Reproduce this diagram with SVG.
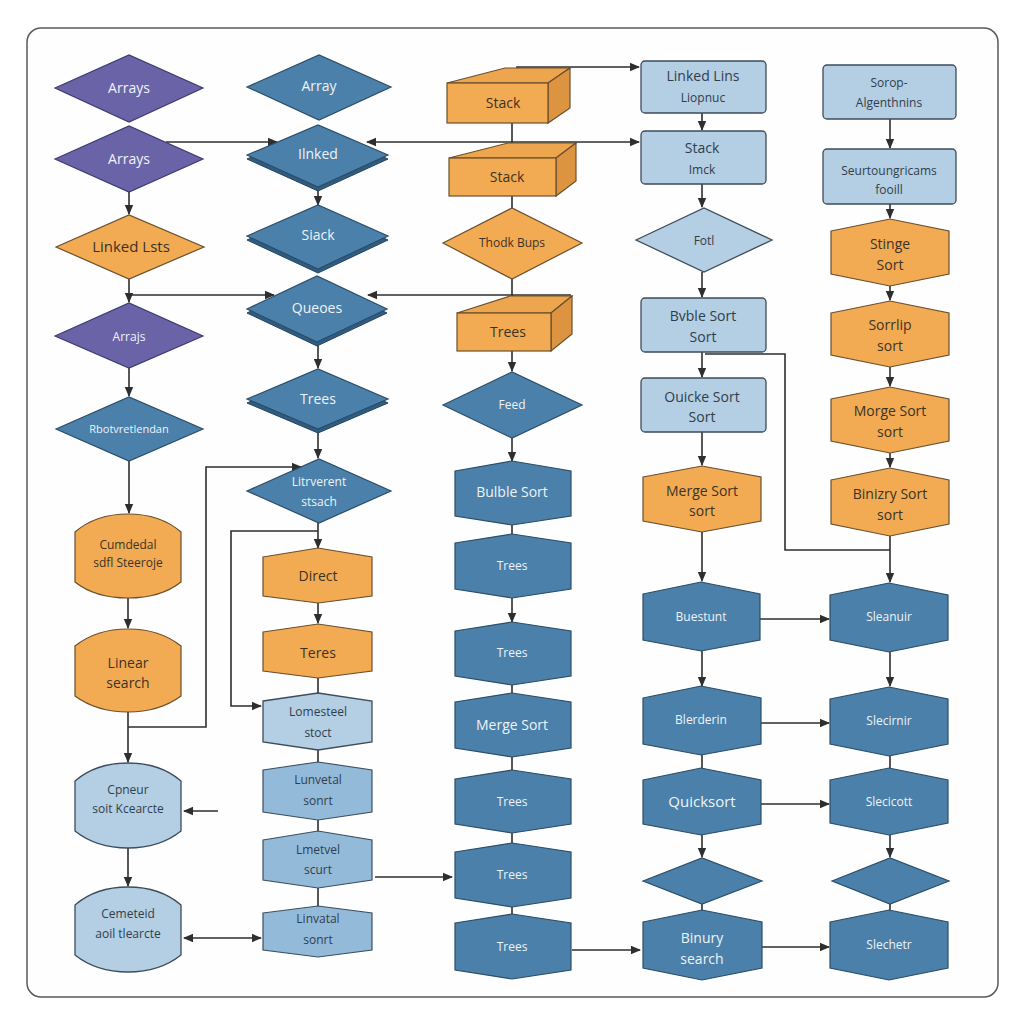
<svg xmlns="http://www.w3.org/2000/svg" width="1024" height="1024" viewBox="0 0 1024 1024">
  <defs>
    <marker id="arr" viewBox="0 0 10 10" refX="9" refY="5" markerWidth="10" markerHeight="10" markerUnits="userSpaceOnUse" orient="auto-start-reverse">
      <path d="M0,0.8 L10,5 L0,9.2 Z" fill="#2e2e2e"/>
    </marker>
    <style>
      .frame { fill: #fefefe; stroke: #5a5a5a; stroke-width: 1.5; }
      .purple { fill: #6b63a8; stroke: #3f3a72; stroke-width: 1.2; }
      .steel { fill: #4a80aa; stroke: #2b4d68; stroke-width: 1.2; }
      .steel-edge { fill: #2f5c80; stroke: #244560; stroke-width: 1; }
      .orange { fill: #f2ab52; stroke: #6a4f2e; stroke-width: 1.2; }
      .orange-side { fill: #dc9440; stroke: #6a4f2e; stroke-width: 1.2; }
      .orange-top { fill: #eea64e; stroke: #6a4f2e; stroke-width: 1.2; }
      .pale { fill: #b4cee3; stroke: #3c4c5a; stroke-width: 1.3; }
      .mid { fill: #94bad9; stroke: #3c4f62; stroke-width: 1.2; }
      .edge { fill: none; stroke: #2e2e2e; stroke-width: 1.6; }
      .arrow { fill: none; stroke: #2e2e2e; stroke-width: 1.6; marker-end: url(#arr); }
      .both { fill: none; stroke: #2e2e2e; stroke-width: 1.6; marker-start: url(#arr); marker-end: url(#arr); }
      text { font-family: "Open Sans", "Liberation Sans", sans-serif; font-size: 14px; text-anchor: middle; }
      .lt { fill: #eef3f8; }
      .dk { fill: #3a3326; }
      .bl { fill: #2f3e4c; }
      .sm { font-size: 12px; }
      .xs { font-size: 11px; }
    </style>
  </defs>

  <rect x="0" y="0" width="1024" height="1024" fill="#ffffff"/>
  <rect class="frame" x="27" y="28" width="971" height="969" rx="14"/>

  <!-- connectors -->
  <g id="connectors">
    <!-- column 1 -->
    <path class="arrow" d="M129,192 V214"/>
    <path class="arrow" d="M166,142 H277"/>
    <path class="arrow" d="M129,279 V302"/>
    <path class="arrow" d="M129,295 H274"/>
    <path class="arrow" d="M129,367 V396"/>
    <path class="arrow" d="M129,461 V513"/>
    <path class="arrow" d="M128,598 V628"/>
    <path class="arrow" d="M128,712 V762"/>
    <path class="arrow" d="M128,727 H206 V467 H301"/>
    <path class="arrow" d="M218,811 H184"/>
    <path class="arrow" d="M128,848 V886"/>
    <path class="both" d="M184,938 H261"/>
    <!-- column 2 -->
    <path class="both" d="M367,142 H639"/>
    <path class="arrow" d="M318,187 V205"/>
    <path class="arrow" d="M571,295 H368"/>
    <path class="arrow" d="M318,342 V368"/>
    <path class="arrow" d="M318,429 V458"/>
    <path class="arrow" d="M318,523 V548"/>
    <path class="arrow" d="M318,531 H231 V706 H261"/>
    <path class="arrow" d="M318,603 V623"/>
    <path class="edge" d="M318,678 V693 M318,750 V762 M318,820 V831 M318,888 V906"/>
    <path class="arrow" d="M375,877 H452"/>
    <!-- column 3 -->
    <path class="both" d="M517,83 V67 H639"/>
    <path class="arrow" d="M512,123 V153"/>
    <path class="edge" d="M512,196 V208"/>
    <path class="arrow" d="M512,279 V311"/>
    <path class="arrow" d="M512,351 V371"/>
    <path class="arrow" d="M512,438 V461"/>
    <path class="edge" d="M512,525 V534"/>
    <path class="arrow" d="M512,598 V622"/>
    <path class="edge" d="M512,685 V693 M512,757 V770 M512,833 V843 M512,907 V914"/>
    <path class="arrow" d="M572,950 H640"/>
    <!-- column 4 -->
    <path class="arrow" d="M702,113 V130"/>
    <path class="arrow" d="M702,184 V207"/>
    <path class="arrow" d="M702,272 V297"/>
    <path class="arrow" d="M702,352 V377"/>
    <path class="arrow" d="M702,432 V465"/>
    <path class="arrow" d="M702,532 V581"/>
    <path class="arrow" d="M702,651 V686"/>
    <path class="edge" d="M702,755 V768"/>
    <path class="arrow" d="M702,835 V857"/>
    <path class="edge" d="M702,904 V910"/>
    <path class="edge" d="M705,354 H785 V550 H890"/>
    <path class="arrow" d="M760,619 H829"/>
    <path class="arrow" d="M761,723 H829"/>
    <path class="arrow" d="M761,804 H829"/>
    <path class="arrow" d="M762,947 H829"/>
    <!-- column 5 -->
    <path class="arrow" d="M890,119 V148"/>
    <path class="arrow" d="M890,204 V218"/>
    <path class="arrow" d="M890,286 V300"/>
    <path class="arrow" d="M890,367 V386"/>
    <path class="arrow" d="M890,453 V467"/>
    <path class="arrow" d="M890,536 V582"/>
    <path class="arrow" d="M890,652 V686"/>
    <path class="edge" d="M890,756 V768"/>
    <path class="arrow" d="M890,835 V857"/>
    <path class="edge" d="M890,904 V910"/>
  </g>

  <!-- column 1 -->
  <g id="c1-arrays-1">
    <polygon class="purple" points="55,88 129,55 203,88 129,122"/>
    <text class="lt" x="129" y="93">Arrays</text>
  </g>
  <g id="c1-arrays-2">
    <polygon class="purple" points="55,159 129,126 203,159 129,192"/>
    <text class="lt" x="129" y="164">Arrays</text>
  </g>
  <g id="c1-linked">
    <polygon class="orange" points="56,247 129,215 204,247 129,279"/>
    <text class="dk" x="131" y="252" style="font-size:15px">Linked Lsts</text>
  </g>
  <g id="c1-arrajs">
    <polygon class="purple" points="55,336 129,303 203,336 129,368"/>
    <text class="lt sm" x="129" y="341">Arrajs</text>
  </g>
  <g id="c1-rbot">
    <polygon class="steel" points="56,429 129,397 203,429 129,461"/>
    <text class="lt xs" x="129" y="433">Rbotvretlendan</text>
  </g>
  <g id="c1-cumdedal">
    <path class="orange" d="M75,532 C90,519 108,514 128,514 C148,514 166,519 181,532 L181,582 C166,594 148,598 128,598 C108,598 90,594 75,582 Z"/>
    <text class="dk sm" x="128" y="549">Cumdedal</text>
    <text class="dk sm" x="128" y="567">sdfl Steeroje</text>
  </g>
  <g id="c1-linear">
    <path class="orange" d="M75,646 C90,634 108,629 128,629 C148,629 166,634 181,646 L181,696 C166,707 148,712 128,712 C108,712 90,707 75,696 Z"/>
    <text class="dk" x="128" y="668">Linear</text>
    <text class="dk" x="128" y="688">search</text>
  </g>
  <g id="c1-cpneur">
    <path class="pale" d="M75,781 C90,768 108,763 128,763 C148,763 166,768 181,781 L181,831 C166,843 148,848 128,848 C108,848 90,843 75,831 Z"/>
    <text class="bl sm" x="128" y="794">Cpneur</text>
    <text class="bl sm" x="128" y="813">soit Kcearcte</text>
  </g>
  <g id="c1-cemeteid">
    <path class="pale" d="M75,905 C90,892 108,887 128,887 C148,887 166,892 181,905 L181,955 C166,967 148,972 128,972 C108,972 90,967 75,955 Z"/>
    <text class="bl sm" x="128" y="918">Cemeteid</text>
    <text class="bl sm" x="128" y="938">aoil tlearcte</text>
  </g>

  <!-- column 2 -->
  <g id="c2-array">
    <polygon class="steel" points="247,87 319,55 391,87 319,120"/>
    <text class="lt" x="319" y="91">Array</text>
  </g>
  <g id="c2-linked">
    <polygon class="steel-edge" points="247,159 318,128 388,159 318,191"/>
    <polygon class="steel" points="247,155 318,125 388,155 318,187"/>
    <text class="lt" x="318" y="159">Ilnked</text>
  </g>
  <g id="c2-stack">
    <polygon class="steel-edge" points="247,240 318,208 388,240 318,273"/>
    <polygon class="steel" points="247,236 318,205 388,236 318,269"/>
    <text class="lt" x="318" y="240">Siack</text>
  </g>
  <g id="c2-queues">
    <polygon class="steel-edge" points="247,313 317,279 387,313 317,346"/>
    <polygon class="steel" points="247,309 317,276 387,309 317,342"/>
    <text class="lt" x="317" y="313">Queoes</text>
  </g>
  <g id="c2-trees">
    <polygon class="steel-edge" points="247,403 318,372 388,403 318,433"/>
    <polygon class="steel" points="247,399 318,369 388,399 318,429"/>
    <text class="lt" x="318" y="404">Trees</text>
  </g>
  <g id="c2-search">
    <polygon class="steel" points="247,491 319,459 391,491 319,523"/>
    <text class="lt sm" x="319" y="486">Litrverent</text>
    <text class="lt sm" x="319" y="506">stsach</text>
  </g>
  <g id="c2-direct">
    <polygon class="orange" points="263,557 318,548 372,557 372,596 318,603 263,596"/>
    <text class="dk" x="318" y="581">Direct</text>
  </g>
  <g id="c2-teres">
    <polygon class="orange" points="263,632 318,624 372,632 372,671 318,678 263,671"/>
    <text class="dk" x="318" y="658">Teres</text>
  </g>
  <g id="c2-lomesteel">
    <polygon class="pale" points="263,701 318,693 372,701 372,742 318,750 263,742"/>
    <text class="bl sm" x="318" y="716">Lomesteel</text>
    <text class="bl sm" x="318" y="737">stoct</text>
  </g>
  <g id="c2-lunvetal">
    <polygon class="mid" points="263,770 318,762 372,770 372,812 318,820 263,812"/>
    <text class="bl sm" x="318" y="784">Lunvetal</text>
    <text class="bl sm" x="318" y="805">sonrt</text>
  </g>
  <g id="c2-lmetvel">
    <polygon class="mid" points="263,840 318,831 372,840 372,880 318,888 263,880"/>
    <text class="bl sm" x="318" y="854">Lmetvel</text>
    <text class="bl sm" x="318" y="874">scurt</text>
  </g>
  <g id="c2-linvatal">
    <polygon class="mid" points="263,913 318,906 372,913 372,950 318,957 263,950"/>
    <text class="bl sm" x="318" y="923">Linvatal</text>
    <text class="bl sm" x="318" y="944">sonrt</text>
  </g>

  <!-- column 3 -->
  <g id="c3-stack-1">
    <path class="orange-top" d="M447,83 L505,68 L570,68 L548,83 Z"/>
    <path class="orange-side" d="M548,83 L570,68 L570,108 L548,123 Z"/>
    <rect class="orange" x="447" y="83" width="101" height="40"/>
    <text class="dk" x="503" y="108">Stack</text>
  </g>
  <g id="c3-stack-2">
    <path class="orange-top" d="M449,158 L508,143 L576,143 L556,158 Z"/>
    <path class="orange-side" d="M556,158 L576,143 L576,181 L556,196 Z"/>
    <rect class="orange" x="449" y="158" width="107" height="38"/>
    <text class="dk" x="507" y="182">Stack</text>
  </g>
  <g id="c3-thodk">
    <polygon class="orange" points="443,243 512,208 582,243 512,279"/>
    <text class="dk sm" x="512" y="247">Thodk Bups</text>
  </g>
  <g id="c3-trees-cube">
    <path class="orange-top" d="M457,313 L510,296 L572,296 L551,313 Z"/>
    <path class="orange-side" d="M551,313 L572,296 L572,334 L551,351 Z"/>
    <rect class="orange" x="457" y="313" width="94" height="38"/>
    <text class="dk" x="508" y="337">Trees</text>
  </g>
  <g id="c3-feed">
    <polygon class="steel" points="443,405 512,372 582,405 512,438"/>
    <text class="lt sm" x="512" y="409">Feed</text>
  </g>
  <g id="c3-bubble">
    <polygon class="steel" points="455,471 512,461 571,471 571,516 512,525 455,516"/>
    <text class="lt" x="512" y="497">Bulble Sort</text>
  </g>
  <g id="c3-trees-1">
    <polygon class="steel" points="455,543 512,534 571,543 571,589 512,598 455,589"/>
    <text class="lt sm" x="512" y="570">Trees</text>
  </g>
  <g id="c3-trees-2">
    <polygon class="steel" points="455,631 512,622 571,631 571,676 512,685 455,676"/>
    <text class="lt sm" x="512" y="657">Trees</text>
  </g>
  <g id="c3-merge">
    <polygon class="steel" points="455,702 512,693 571,702 571,748 512,757 455,748"/>
    <text class="lt" x="512" y="730">Merge Sort</text>
  </g>
  <g id="c3-trees-3">
    <polygon class="steel" points="455,779 512,770 571,779 571,824 512,833 455,824"/>
    <text class="lt sm" x="512" y="806">Trees</text>
  </g>
  <g id="c3-trees-4">
    <polygon class="steel" points="455,852 512,843 571,852 571,898 512,907 455,898"/>
    <text class="lt sm" x="512" y="879">Trees</text>
  </g>
  <g id="c3-trees-5">
    <polygon class="steel" points="455,923 512,914 571,923 571,970 512,979 455,970"/>
    <text class="lt sm" x="512" y="951">Trees</text>
  </g>

  <!-- column 4 -->
  <g id="c4-linked">
    <rect class="pale" x="641" y="61" width="125" height="52" rx="4"/>
    <text class="bl" x="703" y="81">Linked Lins</text>
    <text class="bl sm" x="703" y="102">Liopnuc</text>
  </g>
  <g id="c4-stack">
    <rect class="pale" x="641" y="131" width="125" height="53" rx="4"/>
    <text class="bl" x="702" y="153">Stack</text>
    <text class="bl sm" x="702" y="174">Imck</text>
  </g>
  <g id="c4-fotl">
    <polygon class="pale" points="636,240 704,208 772,240 704,272"/>
    <text class="bl sm" x="704" y="245">Fotl</text>
  </g>
  <g id="c4-bvble">
    <rect class="pale" x="641" y="298" width="125" height="54" rx="4"/>
    <text class="bl" x="703" y="321">Bvble Sort</text>
    <text class="bl" x="703" y="342">Sort</text>
  </g>
  <g id="c4-quicke">
    <rect class="pale" x="641" y="378" width="125" height="54" rx="4"/>
    <text class="bl" x="702" y="402">Ouicke Sort</text>
    <text class="bl" x="702" y="422">Sort</text>
  </g>
  <g id="c4-merge">
    <polygon class="orange" points="643,477 702,466 761,477 761,521 702,532 643,521"/>
    <text class="dk" x="702" y="496">Merge Sort</text>
    <text class="dk" x="702" y="516">sort</text>
  </g>
  <g id="c4-buestunt">
    <polygon class="steel" points="643,594 701,582 760,594 760,640 701,651 643,640"/>
    <text class="lt sm" x="701" y="621">Buestunt</text>
  </g>
  <g id="c4-blerderin">
    <polygon class="steel" points="643,698 701,686 761,698 761,744 701,755 643,744"/>
    <text class="lt sm" x="701" y="724">Blerderin</text>
  </g>
  <g id="c4-quicksort">
    <polygon class="steel" points="643,780 701,768 761,780 761,824 701,835 643,824"/>
    <text class="lt" x="702" y="807" style="font-size:15px">Quicksort</text>
  </g>
  <g id="c4-blank">
    <polygon class="steel" points="643,881 702,858 762,881 702,904"/>
  </g>
  <g id="c4-binury">
    <polygon class="steel" points="643,922 702,910 762,922 762,968 702,980 643,968"/>
    <text class="lt" x="702" y="943">Binury</text>
    <text class="lt" x="702" y="964">search</text>
  </g>

  <!-- column 5 -->
  <g id="c5-sorop">
    <rect class="pale" x="823" y="65" width="133" height="54" rx="4"/>
    <text class="bl sm" x="889" y="87">Sorop-</text>
    <text class="bl sm" x="889" y="107">Algenthnins</text>
  </g>
  <g id="c5-seurt">
    <rect class="pale" x="823" y="149" width="133" height="55" rx="4"/>
    <text class="bl sm" x="889" y="175">Seurtoungricams</text>
    <text class="bl sm" x="889" y="194">fooill</text>
  </g>
  <g id="c5-stinge">
    <polygon class="orange" points="831,231 890,219 949,231 949,274 890,286 831,274"/>
    <text class="dk" x="890" y="249">Stinge</text>
    <text class="dk" x="890" y="270">Sort</text>
  </g>
  <g id="c5-sorrlip">
    <polygon class="orange" points="831,313 890,301 949,313 949,355 890,367 831,355"/>
    <text class="dk" x="890" y="330">Sorrlip</text>
    <text class="dk" x="890" y="351">sort</text>
  </g>
  <g id="c5-morge">
    <polygon class="orange" points="831,399 890,387 949,399 949,441 890,453 831,441"/>
    <text class="dk" x="890" y="416">Morge Sort</text>
    <text class="dk" x="890" y="437">sort</text>
  </g>
  <g id="c5-binizry">
    <polygon class="orange" points="831,480 890,468 949,480 949,524 890,536 831,524"/>
    <text class="dk" x="890" y="499">Binizry Sort</text>
    <text class="dk" x="890" y="520">sort</text>
  </g>
  <g id="c5-sleanuir">
    <polygon class="steel" points="830,595 889,583 948,595 948,640 889,652 830,640"/>
    <text class="lt sm" x="889" y="621">Sleanuir</text>
  </g>
  <g id="c5-slecirnir">
    <polygon class="steel" points="830,699 889,687 948,699 948,744 889,756 830,744"/>
    <text class="lt sm" x="889" y="725">Slecirnir</text>
  </g>
  <g id="c5-slecicott">
    <polygon class="steel" points="830,780 889,768 948,780 948,823 889,835 830,823"/>
    <text class="lt sm" x="889" y="806">Slecicott</text>
  </g>
  <g id="c5-blank">
    <polygon class="steel" points="832,881 890,858 949,881 890,904"/>
  </g>
  <g id="c5-slechetr">
    <polygon class="steel" points="830,922 889,910 948,922 948,968 889,980 830,968"/>
    <text class="lt sm" x="889" y="949">Slechetr</text>
  </g>
</svg>
